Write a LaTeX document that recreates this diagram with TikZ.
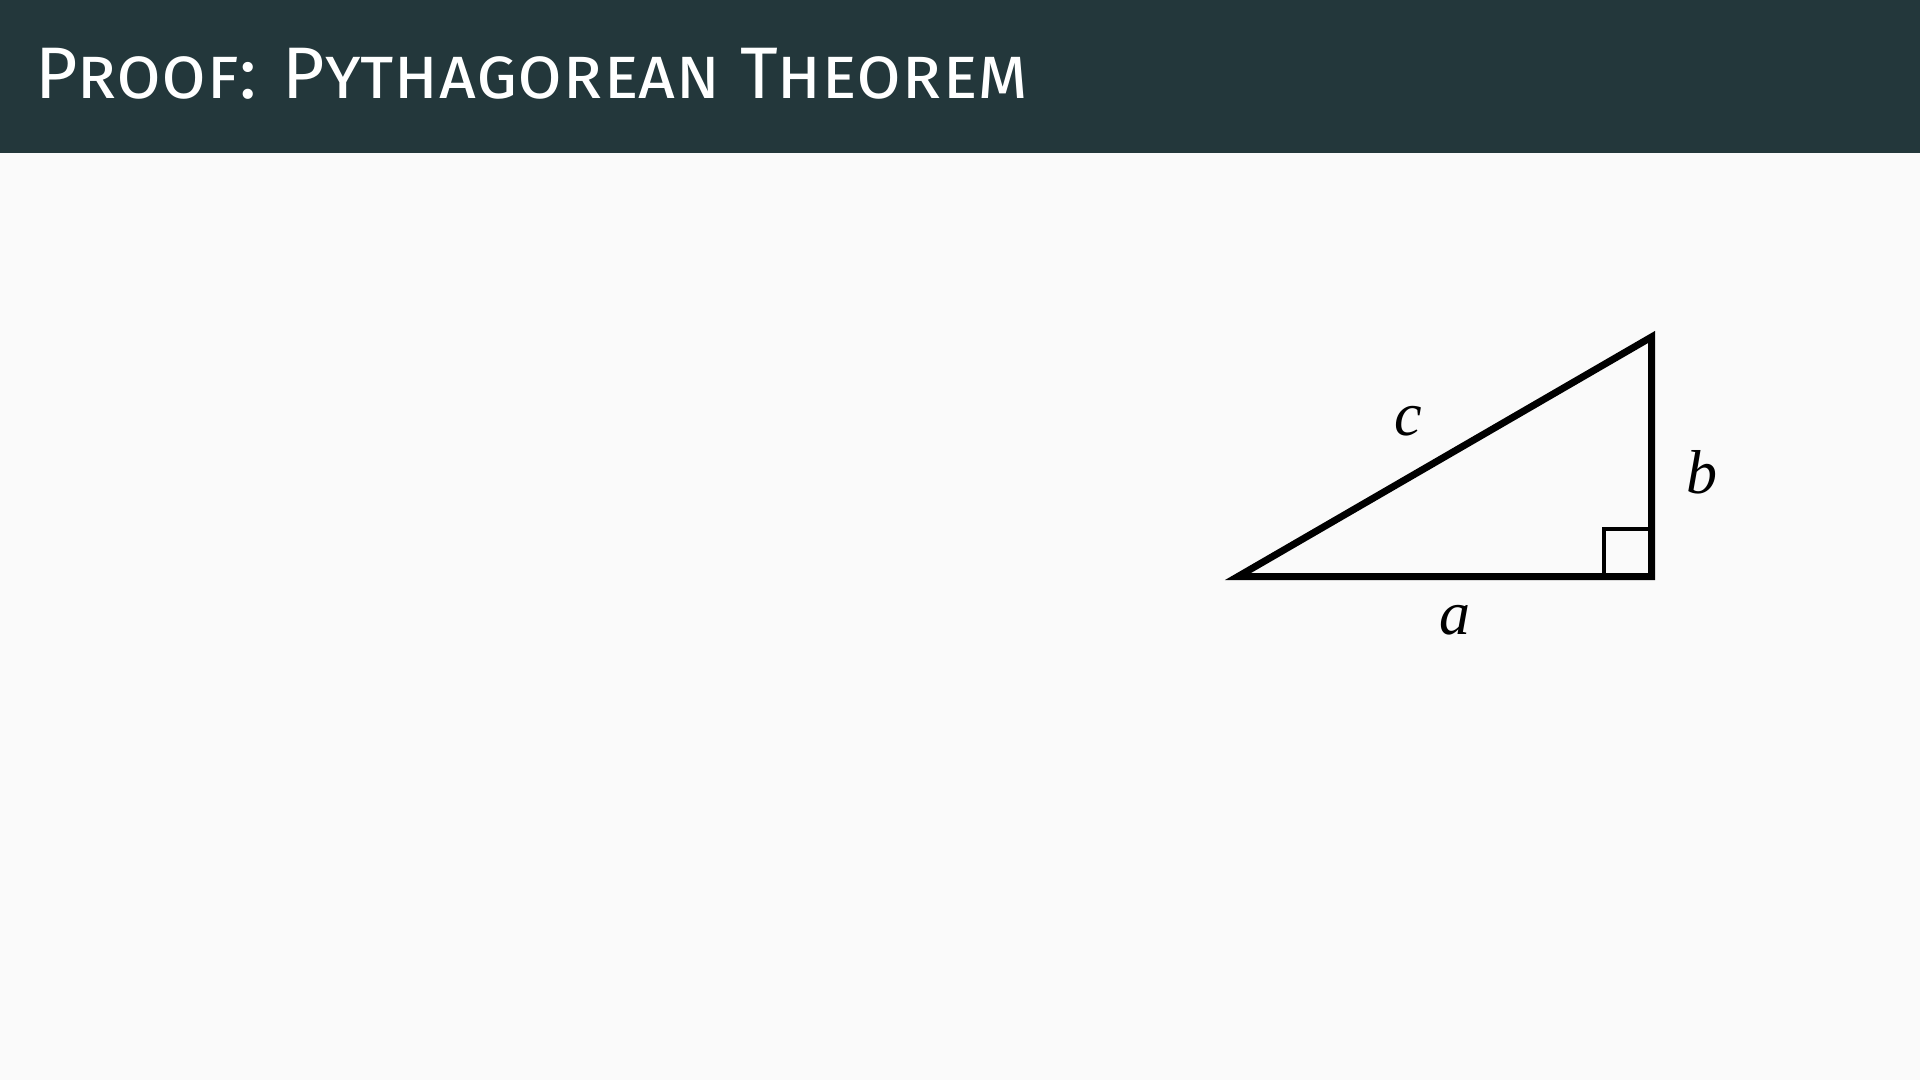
\documentclass[tikz,border=0pt]{standalone}
\usepackage{fontspec}
\setsansfont{Fira Sans}
\newfontfamily\lblfont{Liberation Serif}
\definecolor{hdr}{HTML}{23373B}
\definecolor{bg}{HTML}{FAFAFA}
\tikzset{
  leg/.style={line width=7pt, line join=miter, black},
  rtbox/.style={line width=4pt, black},
  lbl/.style={font=\lblfont\itshape\fontsize{62}{70}\selectfont, inner sep=0pt},
  ttl/.style={font=\sffamily\scshape\fontsize{73}{86}\selectfont, text=white, anchor=base west, inner sep=0pt}
}
\begin{document}
\begin{tikzpicture}[x=1pt,y=-1pt]
\useasboundingbox (0,0) rectangle (1920,1080);
\fill[bg] (0,0) rectangle (1920,1080);
\fill[hdr] (0,0) rectangle (1920,153);
\node[ttl] (title) at (35,98) {Proof: Pythagorean Theorem};
\coordinate (A) at (1238,576.5);
\coordinate (C) at (1651.5,576.5);
\coordinate (B) at (1651.5,337);
\draw[leg] (A) -- (C) -- (B) -- cycle;
\draw[rtbox] (1604,576.5) -- (1604,528.5) -- (1651.5,528.5);
\node[lbl] (c) at (1408,421) {c};
\node[lbl] (b) at (1702,472) {b};
\node[lbl] (a) at (1455,620) {a};
\end{tikzpicture}
\end{document}
